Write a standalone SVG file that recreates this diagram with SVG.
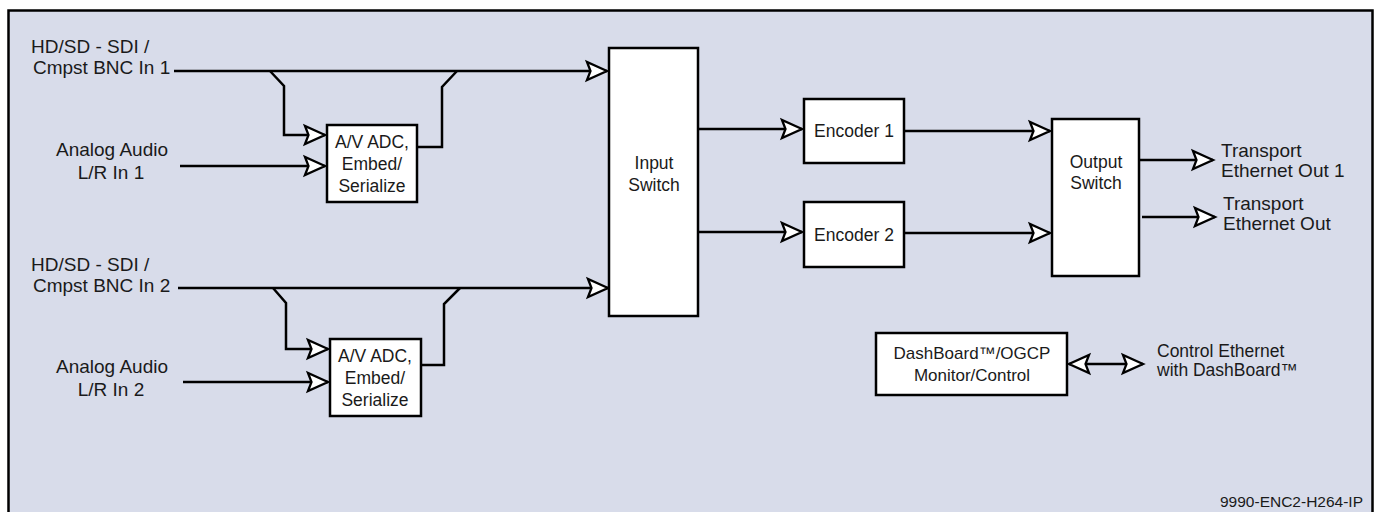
<svg xmlns="http://www.w3.org/2000/svg" width="1379" height="512" viewBox="0 0 1379 512">
<style>
.bg{fill:#d8dcea;stroke:#000;stroke-width:2.5}
.box{fill:#fff;stroke:#000;stroke-width:2.5}
.ln{fill:none;stroke:#000;stroke-width:2.5;stroke-linejoin:miter}
text{font-family:"Liberation Sans",Arial,sans-serif;fill:#1a1a1a}
.lb{font-size:19px}
.bx{font-size:17.5px;text-anchor:middle}
.ct{font-size:17px;text-anchor:middle}
.sm{font-size:17.5px}
.ft{font-size:15.5px;text-anchor:end}
</style>
<defs>
<marker id="arr" viewBox="-2 -11 26 22" markerWidth="26" markerHeight="22" refX="20" refY="0" orient="auto-start-reverse" markerUnits="userSpaceOnUse" overflow="visible">
<path d="M20,0 L0,-9 L3.5,0 L0,9 Z" fill="#fff" stroke="#000" stroke-width="2.3" stroke-linejoin="miter"/>
</marker>
</defs>
<rect class="bg" x="8.5" y="10.5" width="1364" height="520"/>

<g id="connectors">
<path class="ln" d="M174,71 H607" marker-end="url(#arr)"/>
<path class="ln" d="M270,71 L284,86 V135 H325" marker-end="url(#arr)"/>
<path class="ln" d="M180,166 H325" marker-end="url(#arr)"/>
<path class="ln" d="M417,147 H442 V87 L457,71"/>
<path class="ln" d="M178,288 H608" marker-end="url(#arr)"/>
<path class="ln" d="M273,288 L286,303 V349 H328" marker-end="url(#arr)"/>
<path class="ln" d="M183,382 H328" marker-end="url(#arr)"/>
<path class="ln" d="M421,365 H444 V304 L460,288"/>
<path class="ln" d="M698,129 H802" marker-end="url(#arr)"/>
<path class="ln" d="M698,232 H802" marker-end="url(#arr)"/>
<path class="ln" d="M904,131 H1050" marker-end="url(#arr)"/>
<path class="ln" d="M904,233 H1050" marker-end="url(#arr)"/>
<path class="ln" d="M1139,160 H1213" marker-end="url(#arr)"/>
<path class="ln" d="M1142,217 H1215" marker-end="url(#arr)"/>
<path class="ln" d="M1069,364 H1143" marker-start="url(#arr)" marker-end="url(#arr)"/>
</g>

<g id="label-bnc1">
<text class="lb" x="31" y="53">HD/SD - SDI /</text>
<text class="lb" x="33" y="74">Cmpst BNC In 1</text>
</g>
<g id="label-audio1">
<text class="lb" x="112" y="156" text-anchor="middle">Analog Audio</text>
<text class="lb" x="111" y="179" text-anchor="middle">L/R In 1</text>
</g>
<g id="label-bnc2">
<text class="lb" x="31" y="271">HD/SD - SDI /</text>
<text class="lb" x="33" y="292">Cmpst BNC In 2</text>
</g>
<g id="label-audio2">
<text class="lb" x="112" y="373" text-anchor="middle">Analog Audio</text>
<text class="lb" x="111" y="396" text-anchor="middle">L/R In 2</text>
</g>

<g id="adc1">
<rect class="box" x="327" y="125" width="90" height="77"/>
<text class="bx" x="372" y="148">A/V ADC,</text>
<text class="bx" x="372" y="170">Embed/</text>
<text class="bx" x="372" y="192">Serialize</text>
</g>
<g id="adc2">
<rect class="box" x="330" y="339" width="91" height="77"/>
<text class="bx" x="375" y="362">A/V ADC,</text>
<text class="bx" x="375" y="384">Embed/</text>
<text class="bx" x="375" y="406">Serialize</text>
</g>

<g id="input-switch">
<rect class="box" x="609" y="48" width="89" height="268"/>
<text class="bx" x="654" y="169">Input</text>
<text class="bx" x="654" y="191">Switch</text>
</g>

<g id="encoder1">
<rect class="box" x="804" y="99" width="100" height="64"/>
<text class="bx" x="854" y="137">Encoder 1</text>
</g>
<g id="encoder2">
<rect class="box" x="804" y="202" width="100" height="65"/>
<text class="bx" x="854" y="241">Encoder 2</text>
</g>

<g id="output-switch">
<rect class="box" x="1052" y="119" width="87" height="157"/>
<text class="bx" x="1096" y="168">Output</text>
<text class="bx" x="1096" y="189">Switch</text>
</g>

<g id="label-out1">
<text class="lb" x="1221" y="157">Transport</text>
<text class="lb" x="1221" y="177">Ethernet Out 1</text>
</g>
<g id="label-out2">
<text class="lb" x="1223" y="210">Transport</text>
<text class="lb" x="1223" y="230">Ethernet Out</text>
</g>

<g id="dashboard">
<rect class="box" x="876" y="333" width="191" height="62"/>
<text class="ct" x="972" y="359">DashBoard™/OGCP</text>
<text class="ct" x="972" y="381">Monitor/Control</text>
</g>
<g id="label-control">
<text class="sm" x="1157" y="357">Control Ethernet</text>
<text class="sm" x="1157" y="376">with DashBoard™</text>
</g>

<text class="ft" x="1363" y="507">9990-ENC2-H264-IP</text>
</svg>
